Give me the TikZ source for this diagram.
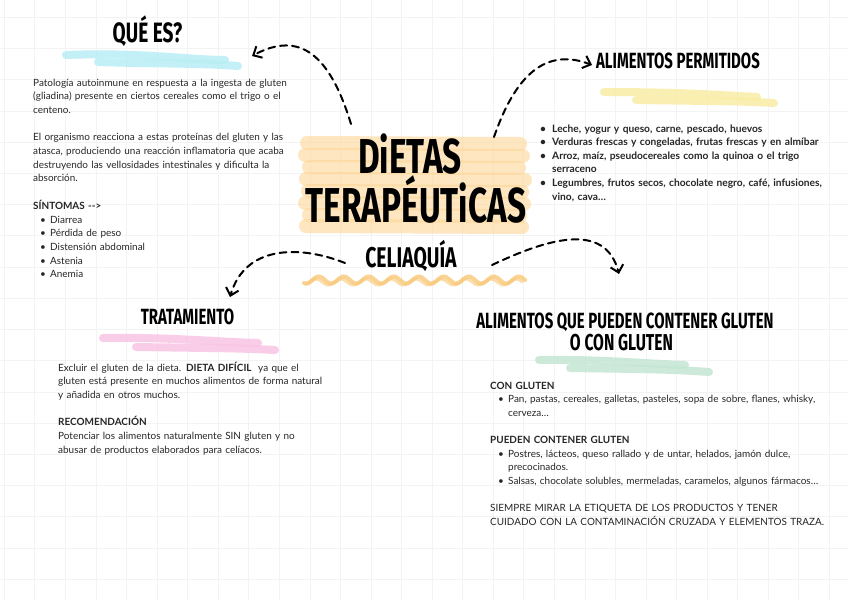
\documentclass[tikz,border=0pt]{standalone}
\usepackage{fontspec}
\setmainfont{Lato}
\newfontfamily\headfont{Fira Sans}[FakeStretch=0.68]
\usetikzlibrary{arrows.meta, positioning}
\definecolor{gridgray}{RGB}{243,243,243}
\definecolor{cianbrush}{RGB}{184,238,245}
\definecolor{amarillobrush}{RGB}{250,237,165}
\definecolor{rosabrush}{RGB}{248,196,228}
\definecolor{verdebrush}{RGB}{197,230,212}
\definecolor{naranjabrush}{RGB}{253,214,150}
\definecolor{ondabrush}{RGB}{249,200,120}
\definecolor{textogris}{RGB}{38,38,38}
\newcommand{\vin}[1][10pt]{\makebox[#1][l]{\textbullet}}

\begin{document}
\begin{tikzpicture}[
    x=1pt, y=-1pt,
    rejilla/.style={gridgray, line width=0.8pt},
    encabezado/.style={font=\headfont\bfseries\fontsize{22}{22}\selectfont, inner sep=0, anchor=base},
    cuerpo/.style={font=\fontsize{9.95}{13.7}\selectfont, text=textogris, text width=360pt, align=left, inner sep=0, anchor=base west},
    brocha/.style={line width=8pt, line cap=round, opacity=0.85},
    flecha/.style={-{Straight Barb[length=7pt, width=13pt, line width=2pt]}, line width=2pt, dash pattern=on 7pt off 5pt, line cap=round},
]
\fill[white] (0,0) rectangle (848,600);
\useasboundingbox (0,0) rectangle (848,600);

% cuadricula
\foreach \i in {0,...,27} \draw[rejilla] ({4.3+30.56*\i},0) -- ++(0,600);
\foreach \j in {0,...,18} \draw[rejilla] (0,{17.3+31.22*\j}) -- ++(848,0);

% brochazos
\draw[brocha, cianbrush] (66,55) .. controls (140,52) and (190,60) .. (225,60);
\draw[brocha, cianbrush] (98,62) .. controls (160,64) and (200,63) .. (238,66);
\draw[brocha, amarillobrush] (604,92) .. controls (680,92) and (720,95) .. (757,97);
\draw[brocha, amarillobrush] (636,100) .. controls (700,101) and (740,101) .. (774,103);
\draw[brocha, rosabrush] (103,338) .. controls (170,337) and (220,342) .. (258,343);
\draw[brocha, rosabrush] (136,347) .. controls (200,348) and (240,348) .. (275,350);
\draw[brocha, verdebrush] (539,360) .. controls (600,359) and (650,364) .. (685,365);
\draw[brocha, verdebrush] (570,368) .. controls (630,369) and (670,369) .. (709,372);
\foreach \yy/\xa/\xb in {143/307/520, 155/305/523, 167/309/519, 179/306/525, 191/308/522, 203/305/524, 215/309/520, 226/306/522}
  \draw[naranjabrush, line width=14pt, line cap=round, opacity=0.6] (\xa,\yy) -- (\xb,\yy+1);
\draw[ondabrush, line width=4pt, line cap=round, opacity=0.8] plot[domain=304:525, samples=120] (\x, {280+3.5*sin(14.4*\x)});
\draw[ondabrush, line width=3pt, line cap=round, opacity=0.6] plot[domain=306:522, samples=120] (\x, {282+3*sin(14.4*\x+40)});

% titulos
\node[encabezado, font=\headfont\bfseries\fontsize{49}{49}\selectfont] (dietas) at (410,173) {DiETAS};
\node[encabezado, font=\headfont\bfseries\fontsize{49}{49}\selectfont] (terapeuticas) at (416,222) {TERAPÉUTiCAS};
\node[encabezado, font=\headfont\bfseries\fontsize{28.5}{28.5}\selectfont] (celiaquia) at (411,267) {CELIAQUÍA};
\node[encabezado, font=\headfont\bfseries\fontsize{28}{28}\selectfont] (quees) at (147.5,42) {QUÉ ES?};
\node[encabezado] (permitidos) at (678,68) {ALIMENTOS PERMITIDOS};
\node[encabezado] (tratamiento) at (187.5,324) {TRATAMIENTO};
\node[encabezado, font=\headfont\bfseries\fontsize{22}{22}\selectfont] (contener) at (625,328) {ALIMENTOS QUE PUEDEN CONTENER GLUTEN};
\node[encabezado, font=\headfont\bfseries\fontsize{23}{23}\selectfont] (congluten) at (621.5,350) {O CON GLUTEN};

% textos
\node[cuerpo] (definicion) at (33,86) {Patología autoinmune en respuesta a la ingesta de gluten\\
(gliadina) presente en ciertos cereales como el trigo o el\\
centeno.\\[13.7pt]
El organismo reacciona a estas proteínas del gluten y las\\
atasca, produciendo una reacción inflamatoria que acaba\\
destruyendo las vellosidades intestinales y dificulta la\\
absorción.\\[13.7pt]
\textbf{SÍNTOMAS -{}->}\\
\hspace*{7pt}\vin Diarrea\\
\hspace*{7pt}\vin Pérdida de peso\\
\hspace*{7pt}\vin Distensión abdominal\\
\hspace*{7pt}\vin Astenia\\
\hspace*{7pt}\vin Anemia};

\node[cuerpo, font=\bfseries\fontsize{10.2}{13.6}\selectfont] (listaperm) at (540,132) {\vin[12pt]Leche, yogur y queso, carne, pescado, huevos\\
\vin[12pt]Verduras frescas y congeladas, frutas frescas y en almíbar\\
\vin[12pt]Arroz, maíz, pseudocereales como la quinoa o el trigo\\
\hspace*{12pt}serraceno\\
\vin[12pt]Legumbres, frutos secos, chocolate negro, café, infusiones,\\
\hspace*{12pt}vino, cava…};

\node[cuerpo] (trattexto) at (58,371) {Excluir el gluten de la dieta. \textbf{DIETA DIFÍCIL}\ \ ya que el\\
gluten está presente en muchos alimentos de forma natural\\
y añadida en otros muchos.\\[13.7pt]
\textbf{RECOMENDACIÓN}\\
Potenciar los alimentos naturalmente SIN gluten y no\\
abusar de productos elaborados para celíacos.};

\node[cuerpo, font=\fontsize{9.95}{13.6}\selectfont] (contexto) at (490,389) {\textbf{CON GLUTEN}\\
\hspace*{8pt}\vin Pan, pastas, cereales, galletas, pasteles, sopa de sobre, flanes, whisky,\\
\hspace*{18pt}cerveza…\\[13.6pt]
\textbf{PUEDEN CONTENER GLUTEN}\\
\hspace*{8pt}\vin Postres, lácteos, queso rallado y de untar, helados, jamón dulce,\\
\hspace*{18pt}precocinados.\\
\hspace*{8pt}\vin Salsas, chocolate solubles, mermeladas, caramelos, algunos fármacos…\\[13.6pt]
SIEMPRE MIRAR LA ETIQUETA DE LOS PRODUCTOS Y TENER\\
CUIDADO CON LA CONTAMINACIÓN CRUZADA Y ELEMENTOS TRAZA.};

% flechas
\coordinate (s1) at (351,124);
\coordinate (e1) at (252,56);
\coordinate (s2) at (494,137);
\coordinate (e2) at (592,65);
\coordinate (s3) at (345,263);
\coordinate (e3) at (230,297);
\coordinate (s4) at (492,265);
\coordinate (e4) at (619,274);
\draw[flecha] (s1) .. controls (330,55) and (300,30) .. (e1);
\draw[flecha] (s2) .. controls (512,85) and (540,45) .. (e2);
\draw[flecha] (s3) .. controls (300,245) and (245,245) .. (e3);
\draw[flecha] (s4) .. controls (545,240) and (605,220) .. (e4);

\end{tikzpicture}
\end{document}
